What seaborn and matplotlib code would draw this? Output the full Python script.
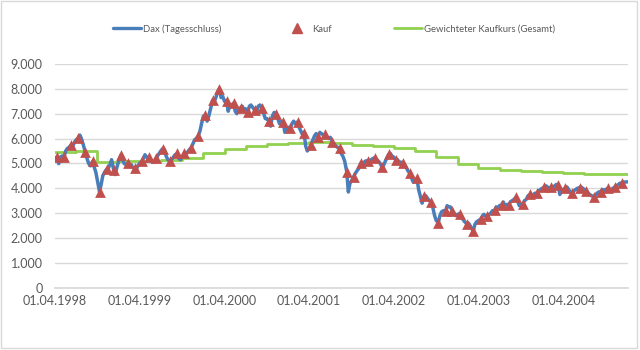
import matplotlib
matplotlib.use("Agg")
import matplotlib.pyplot as plt
import matplotlib.dates as mdates
from matplotlib.ticker import FuncFormatter
from matplotlib.lines import Line2D
import seaborn as sns
import pandas as pd

# ---------------- data ----------------
# DAX closes, four readings per month (around day 1, 10, 17, 24), Apr 1998 - Dec 2004
dax_values = [
    # 1998 Apr - Dec
    5220, 5260, 4990, 5250,  5300, 5260, 5500, 5600,  5650, 5740, 5700, 5850,
    5950, 6010, 6140, 6000,  5750, 5440, 5200, 5000,  4900, 5080, 4850, 4650,
    4300, 3860, 4150, 4500,  4650, 4770, 4800, 4950,  5150, 4750, 4550, 4850,
    # 1999
    5100, 5340, 5150, 5000,  4950, 5020, 4900, 4950,  4850, 4800, 4750, 4900,
    5000, 5080, 5200, 5350,  5250, 5240, 5150, 5050,  5050, 5200, 5300, 5400,
    5500, 5600, 5550, 5300,  5150, 5080, 5150, 5250,  5350, 5400, 5200, 5150,
    5250, 5400, 5350, 5450,  5550, 5640, 5800, 5950,  6000, 6110, 6300, 6600,
    # 2000
    6900, 6950, 6700, 6900,  7200, 7550, 7500, 7650,  7850, 8000, 7650, 7700,
    7500, 7520, 7100, 7350,  7350, 7420, 7100, 7000,  7200, 7240, 7300, 7100,
    7200, 7050, 7300, 7350,  7250, 7140, 7050, 7300,  7350, 7240, 7000, 6800,
    6800, 6700, 6500, 6900,  7050, 7000, 6800, 6600,  6700, 6680, 6250, 6400,
    # 2001
    6450, 6410, 6600, 6700,  6600, 6670, 6450, 6300,  6200, 6240, 5700, 5500,
    5600, 5760, 5950, 6100,  6200, 6080, 6250, 6200,  6150, 6170, 6050, 6000,
    6050, 5880, 5800, 5700,  5650, 5610, 5400, 5300,  5100, 4670, 3850, 4200,
    4300, 4470, 4600, 4700,  4800, 5010, 4900, 5050,  5100, 5110, 4950, 5150,
    # 2002
    5200, 5230, 5150, 5100,  5000, 4850, 4950, 5100,  5200, 5370, 5400, 5300,
    5250, 5140, 5150, 5050,  5050, 5030, 4950, 4850,  4700, 4600, 4400, 4250,
    4300, 4400, 3950, 3700,  3400, 3670, 3700, 3600,  3500, 3430, 3200, 2900,
    2700, 2620, 2900, 3050,  3100, 3090, 3300, 3250,  3250, 3090, 3000, 2900,
    # 2003
    2950, 2980, 2850, 2750,  2650, 2570, 2600, 2500,  2400, 2290, 2550, 2650,
    2700, 2750, 2850, 2950,  2900, 2890, 2950, 3000,  3100, 3110, 3250, 3200,
    3300, 3340, 3450, 3300,  3350, 3330, 3450, 3500,  3550, 3640, 3500, 3300,
    3350, 3380, 3500, 3550,  3700, 3750, 3650, 3750,  3800, 3800, 3900, 3950,
    # 2004
    4000, 4040, 4100, 4050,  4000, 4060, 4050, 4100,  4150, 4150, 3750, 3900,
    3950, 4000, 4050, 3950,  3850, 3790, 3900, 3950,  4000, 4030, 4050, 4000,
    3950, 3910, 3800, 3750,  3700, 3660, 3700, 3800,  3850, 3870, 3950, 3900,
    3950, 4000, 3900, 3950,  4000, 4060, 4100, 4150,  4200, 4220, 4250, 4250,
]
dax_last_date = "2005-01-03"
dax_last_value = 4260
reading_days = [1, 10, 17, 24]

# monthly purchases (around the 10th)
kauf_values = [
    5260, 5260, 5740, 6010, 5440, 5080, 3860, 4770, 4750,
    5340, 5020, 4800, 5080, 5240, 5200, 5600, 5080, 5400, 5400, 5640, 6110,
    6950, 7550, 8000, 7520, 7420, 7240, 7050, 7140, 7240, 6700, 7000, 6680,
    6410, 6670, 6240, 5760, 6080, 6170, 5880, 5610, 4670, 4470, 5010, 5110,
    5230, 4850, 5370, 5140, 5030, 4600, 4400, 3670, 3430, 2620, 3090, 3090,
    2980, 2570, 2290, 2750, 2890, 3110, 3340, 3330, 3640, 3380, 3750, 3800,
    4040, 4060, 4150, 4000, 3790, 4030, 3910, 3660, 3870, 4000, 4060, 4220,
]
kauf_day = 10

# weighted purchase price, one value per quarter (Apr 1998 - Oct 2004)
gewichtet_values = [
    5440, 5490, 5070, 5080, 5100, 5150, 5210, 5400, 5590, 5700, 5790, 5840,
    5860, 5810, 5740, 5700, 5630, 5510, 5270, 4990, 4830, 4750, 4700, 4660,
    4620, 4590, 4580,
]
gewichtet_end = "2005-01-05"

x_ticks = ["1998-04-01", "1999-04-01", "2000-04-01", "2001-04-01",
           "2002-04-01", "2003-04-01", "2004-04-01"]
y_ticks = [0, 1000, 2000, 3000, 4000, 5000, 6000, 7000, 8000, 9000]

# ---------------- frames ----------------
months = pd.date_range("1998-04-01", "2004-12-01", freq="MS")
dax_dates = [m + pd.Timedelta(days=d - 1) for m in months for d in reading_days]
dax_df = pd.DataFrame({
    "Datum": dax_dates + [pd.Timestamp(dax_last_date)],
    "Kurs": dax_values + [dax_last_value],
})
kauf_df = pd.DataFrame({
    "Datum": [m + pd.Timedelta(days=kauf_day - 1) for m in months],
    "Kurs": kauf_values,
})
quarters = pd.date_range("1998-04-01", periods=len(gewichtet_values), freq="QS-JAN")
gew_df = pd.DataFrame({
    "Datum": list(quarters) + [pd.Timestamp(gewichtet_end)],
    "Kurs": gewichtet_values + [gewichtet_values[-1]],
})

# ---------------- plot ----------------
sns.set_theme(style="white")
plt.rcParams["font.family"] = ["Lato", "DejaVu Sans"]
text_color = "#595959"
blue = "#4A7EBB"
red = "#C0504D"
green = "#92D050"
grid_color = "#D9D9D9"

fig = plt.figure(figsize=(6.4, 3.5), dpi=100)
ax = fig.add_axes([55 / 640, 1 - 287.7 / 350, (628 - 55) / 640, (287.7 - 64) / 350])

sns.lineplot(data=gew_df, x="Datum", y="Kurs", ax=ax, color=green, lw=2.0,
             drawstyle="steps-post", zorder=2)
sns.lineplot(data=dax_df, x="Datum", y="Kurs", ax=ax, color=blue, lw=2.5, zorder=3)
sns.scatterplot(data=kauf_df, x="Datum", y="Kurs", ax=ax, color=red, marker="^",
                s=60, linewidth=0, zorder=4)

ax.set_xlim(pd.Timestamp("1998-04-01"), pd.Timestamp("2005-01-05"))
ax.set_ylim(0, 9000)
ax.set_yticks(y_ticks)
ax.yaxis.set_major_formatter(FuncFormatter(lambda v, p: f"{int(v):,}".replace(",", ".")))
ax.set_xticks([pd.Timestamp(t) for t in x_ticks])
ax.xaxis.set_major_formatter(mdates.DateFormatter("%d.%m.%Y"))
ax.grid(axis="y", color=grid_color, lw=1)
ax.grid(axis="x", visible=False)
for s in ["top", "right", "left"]:
    ax.spines[s].set_visible(False)
ax.spines["bottom"].set_color(grid_color)
ax.tick_params(axis="both", length=0, labelsize=9, colors=text_color)
ax.tick_params(axis="y", pad=9)
ax.tick_params(axis="x", pad=5)
ax.set_xlabel("")
ax.set_ylabel("")
if ax.get_legend():
    ax.get_legend().remove()

handles = [
    Line2D([], [], color=blue, lw=2.4),
    Line2D([], [], color=red, marker="^", ls="none", markersize=7),
    Line2D([], [], color=green, lw=2.0),
]
labels = ["Dax (Tagesschluss)", "Kauf", "Gewichteter Kaufkurs (Gesamt)"]
leg = fig.legend(handles, labels, loc="center", bbox_to_anchor=(0.522, 1 - 29 / 350),
                 ncol=3, frameon=False, fontsize=6.8, handlelength=2.9,
                 handletextpad=0.2, columnspacing=6.6)
for t in leg.get_texts():
    t.set_color(text_color)

fig.add_artist(plt.Rectangle((0.5 / 640, 2 / 350), 636 / 640, 347 / 350,
                             transform=fig.transFigure, fill=False,
                             edgecolor=grid_color, lw=1))

fig.savefig("out.png", dpi=100)
